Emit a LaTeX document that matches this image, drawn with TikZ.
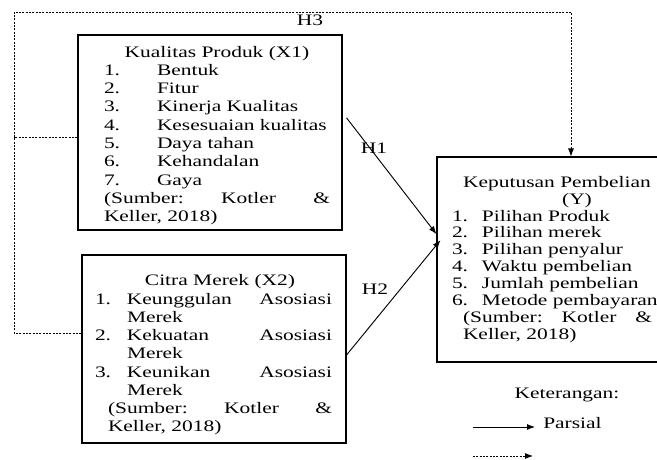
\documentclass[tikz,border=0pt]{standalone}
\usepackage{fontspec}
\setmainfont{Liberation Serif}[FakeStretch=1.34]
\usetikzlibrary{arrows.meta}

\begin{document}
\begin{tikzpicture}[
  x=0.75pt,y=-0.75pt,
  >={Latex[length=6pt,width=4.5pt]},
  every node/.style={font=\fontsize{12}{13.7}\selectfont},
  box/.style={draw,line width=0.8pt,inner sep=0pt},
  arc/.style={->,line width=0.7pt},
  dline/.style={line width=0.6pt,dash pattern=on 1.5pt off 1pt}
]
\useasboundingbox (0,0) rectangle (657,460);
\node[box,minimum width=198pt,minimum height=146.25pt] (x1) at (210,132.5) {\hspace*{19.5pt}\parbox{169.5pt}{\vspace*{4.5pt}%
\makebox[\linewidth]{Kualitas Produk (X1)}\par
\makebox[39.75pt][l]{1.}Bentuk\par
\makebox[39.75pt][l]{2.}Fitur\par
\makebox[39.75pt][l]{3.}Kinerja Kualitas\par
\makebox[39.75pt][l]{4.}Kesesuaian kualitas\par
\makebox[39.75pt][l]{5.}Daya tahan\par
\makebox[39.75pt][l]{6.}Kehandalan\par
\makebox[39.75pt][l]{7.}Gaya\par
(Sumber:\hfill Kotler\hfill\&\par
Keller, 2018)}\hspace*{9pt}};
\node[box,minimum width=198pt,minimum height=141pt,font=\fontsize{12}{13.7}\selectfont] (x2) at (214,349) {\hspace*{9.75pt}\parbox{177.75pt}{\vspace*{9pt}%
\makebox[\linewidth]{\hspace{9.75pt}Citra Merek (X2)}\par
\makebox[24pt][l]{1.}Keunggulan\hfill Asosiasi\par
\hspace*{24pt}Merek\par
\makebox[24pt][l]{2.}Kekuatan\hfill Asosiasi\par
\hspace*{24pt}Merek\par
\makebox[24pt][l]{3.}Keunikan\hfill Asosiasi\par
\hspace*{24pt}Merek\par
\hspace*{9.75pt}(Sumber:\hfill Kotler\hfill\&\par
\hspace*{9.75pt}Keller, 2018)}\hspace*{10.5pt}};
\node[box,minimum width=167.25pt,minimum height=153.75pt,font=\fontsize{12}{12.7}\selectfont] (y) at (548.5,259.5) {\hspace*{11.25pt}\parbox{154pt}{%
\makebox[\linewidth]{\hspace{3.5pt}Keputusan Pembelian}\par
\makebox[\linewidth]{\hspace{33.5pt}(Y)}\par
\makebox[22.5pt][l]{1.}Pilihan Produk\par
\makebox[22.5pt][l]{2.}Pilihan merek\par
\makebox[22.5pt][l]{3.}Pilihan penyalur\par
\makebox[22.5pt][l]{4.}Waktu pembelian\par
\makebox[22.5pt][l]{5.}Jumlah pembelian\par
\mbox{\makebox[22.5pt][l]{6.}Metode pembayaran}\par
\hspace*{8.25pt}\makebox[141.75pt][s]{(Sumber:\hfill Kotler\hfill\&}\par
\hspace*{8.25pt}Keller, 2018)}\hspace*{2pt}};
\node (h3) at (310,20) {H3};
\node (h1) at (374,148) {H1};
\node (h2) at (375,289) {H2};
\coordinate (tl) at (14,12);
\coordinate (tr) at (571,12);
\draw[dline,->] ([yshift=12pt]x2.west) -| (tl) -- (tr) -- (tr |- y.north);
\draw[dline] ([yshift=-4pt]x1.west) -- ([yshift=-4pt]x1.west -| tl);
\draw[arc] ([xshift=3pt,yshift=11pt]x1.east) -- ([yshift=19pt]y.west);
\draw[arc] ([yshift=-4.5pt]x2.east) -- ([xshift=3pt,yshift=14.5pt]y.west);
\node (ket) at (567,395) {Keterangan:};
\node[anchor=west,inner xsep=6pt] (parsial) at (535,423) {Parsial};
\coordinate (p0) at (473,427);
\draw[arc] (p0) -- (p0 -| parsial.west);
\coordinate (s0) at (473,456);
\coordinate (s1) at (533,456);
\draw[dline,->] (s0) -- (s1);
\end{tikzpicture}
\end{document}
